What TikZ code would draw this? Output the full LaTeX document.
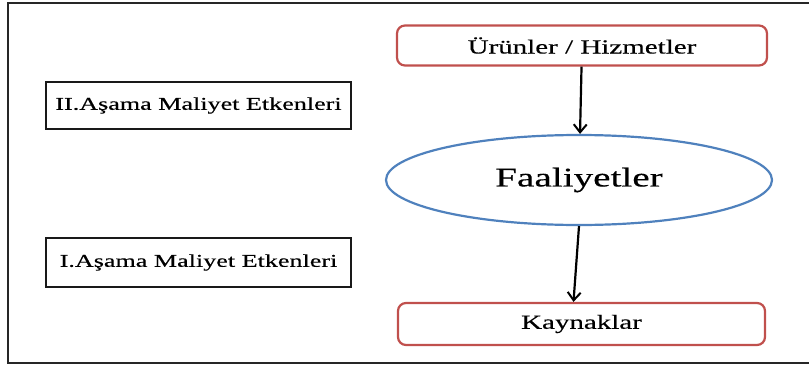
\documentclass[tikz,border=0pt]{standalone}
\usepackage{fontspec}
\setmainfont{Liberation Serif}[FakeStretch=1.45,FakeBold=0.4]
\usetikzlibrary{shapes.geometric}
\usetikzlibrary{positioning}
\usetikzlibrary{arrows.meta}

\definecolor{boxred}{RGB}{192,80,77}
\definecolor{ovalblue}{RGB}{79,129,189}

\begin{document}
\begin{tikzpicture}[x=1pt,y=1pt,>={Straight Barb[length=8pt,width=13pt,line width=2pt]},
	thick,red box/.style={draw=boxred,line width=2.2pt,rounded corners=8pt,inner sep=0pt,
	minimum width=370pt,minimum height=40pt,font=\fontsize{20}{24}\selectfont},
	side box/.style={draw=black!90,line width=2.2pt,inner sep=0pt,
	minimum width=305pt,minimum height=48pt,font=\fontsize{18}{22}\selectfont},
	act node/.style={ellipse,draw=ovalblue,line width=2.2pt,inner sep=0pt,
	minimum width=386pt,minimum height=90pt,font=\fontsize{27}{32}\selectfont}]
	
	\useasboundingbox (0,0) rectangle (809,365);
	\draw[line width=2.8pt,black!85] (830,362) -| (8,2) -- (830,2);
	
	\node[red box] (urun) at (582,319.5) {Ürünler / Hizmetler};
	\node[act node] (faal) at (579,185) {Faaliyetler};
	\node[red box,minimum width=367pt,minimum height=42pt] (kaynak) at (581.5,41) {Kaynaklar};
	\node[side box,minimum height=47pt] (asama2) at (198.5,259.5) {II.Aşama Maliyet Etkenleri};
	\node[side box,minimum height=49pt] (asama1) at (198.5,102.5) {I.Aşama Maliyet Etkenleri};
	
	\path[line width=2.2pt]
	(urun) edge [->] (faal)
	(faal.south) edge [->] ([xshift=-8pt]kaynak.north);
	\end{tikzpicture}
\end{document}
